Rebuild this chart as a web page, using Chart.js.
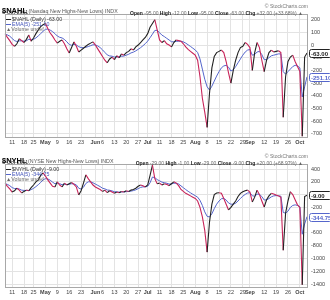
<!DOCTYPE html>
<html><head><meta charset="utf-8">
<script src="https://cdn.jsdelivr.net/npm/chart.js@4.4.1/dist/chart.umd.min.js"></script>
<style>
html,body{margin:0;padding:0;background:#fff;width:330px;height:300px;overflow:hidden;font-family:"Liberation Sans",Arial,sans-serif;}
.panel{position:absolute;left:0;width:330px;height:150px;}
.panel canvas{position:absolute;left:0;top:0;}
.t{position:absolute;white-space:nowrap;color:#444;line-height:1;z-index:2;}
.b{font-weight:bold;color:#222;}
.dash{display:inline-block;width:5px;height:1.2px;vertical-align:middle;margin-right:1px;}
</style></head><body>

<div class="panel" style="top:0">
 <canvas id="c1" width="330" height="150"></canvas>
 <div class="t" style="left:2px;top:0px;"><span class="b" style="font-size:7.5px;color:#000">$NAHL</span><span style="font-size:5.3px;color:#555"> (Nasdaq New Highs-New Lows) INDX</span></div>
 <div class="t" style="left:2px;top:9.5px;font-size:5.3px;color:#333">6-Oct-2011</div>
 <div class="t" style="right:22px;top:3.5px;font-size:5px;color:#777">© StockCharts.com</div>
 <div class="t" style="right:27px;top:10.5px;font-size:5px;color:#666"><span class="b">Open</span> -95.00 <span class="b">High</span> -12.00 <span class="b">Low</span> -95.00 <span class="b">Close</span> -63.00 <span class="b">Chg</span> +32.00 (+33.68%) ▲</div>
 <div class="t" style="left:6px;top:16.5px;font-size:5.3px;color:#333"><span class="dash" style="background:#222"></span>$NAHL (Daily) -63.00</div>
 <div class="t" style="left:6px;top:21.5px;font-size:5.3px;color:#4455bb"><span class="dash" style="background:#5566cc"></span>EMA(5) -251.10</div>
 <div class="t" style="left:6px;top:26.5px;font-size:5.3px;color:#666">▲Volume undef</div>
</div>

<div class="panel" style="top:150px">
 <canvas id="c2" width="330" height="150"></canvas>
 <div class="t" style="left:2px;top:0px;"><span class="b" style="font-size:7.5px;color:#000">$NYHL</span><span style="font-size:5.3px;color:#555"> (NYSE New Highs-New Lows) INDX</span></div>
 <div class="t" style="left:2px;top:9.5px;font-size:5.3px;color:#333">6-Oct-2011</div>
 <div class="t" style="right:22px;top:3.5px;font-size:5px;color:#777">© StockCharts.com</div>
 <div class="t" style="right:27px;top:10.5px;font-size:5px;color:#666"><span class="b">Open</span> -29.00 <span class="b">High</span> -1.00 <span class="b">Low</span> -29.00 <span class="b">Close</span> -9.00 <span class="b">Chg</span> +20.00 (+68.97%) ▲</div>
 <div class="t" style="left:6px;top:16.5px;font-size:5.3px;color:#333"><span class="dash" style="background:#222"></span>$NYHL (Daily) -9.00</div>
 <div class="t" style="left:6px;top:21.5px;font-size:5.3px;color:#4455bb"><span class="dash" style="background:#5566cc"></span>EMA(5) -344.75</div>
 <div class="t" style="left:6px;top:26.5px;font-size:5.3px;color:#666">▲Volume undef</div>
</div>

<script>
// ---- categories: trading days Apr 6 – Oct 6, 2011 ----
const tradingDays = [
 '4/6','4/7','4/8','4/11','4/12','4/13','4/14','4/15','4/18','4/19','4/20','4/21','4/25','4/26','4/27','4/28','4/29',
 '5/2','5/3','5/4','5/5','5/6','5/9','5/10','5/11','5/12','5/13','5/16','5/17','5/18','5/19','5/20','5/23','5/24','5/25','5/26','5/27','5/31',
 '6/1','6/2','6/3','6/6','6/7','6/8','6/9','6/10','6/13','6/14','6/15','6/16','6/17','6/20','6/21','6/22','6/23','6/24','6/27','6/28','6/29','6/30',
 '7/1','7/5','7/6','7/7','7/8','7/11','7/12','7/13','7/14','7/15','7/18','7/19','7/20','7/21','7/22','7/25','7/26','7/27','7/28','7/29',
 '8/1','8/2','8/3','8/4','8/5','8/8','8/9','8/10','8/11','8/12','8/15','8/16','8/17','8/18','8/19','8/22','8/23','8/24','8/25','8/26','8/29','8/30','8/31',
 '9/1','9/2','9/6','9/7','9/8','9/9','9/12','9/13','9/14','9/15','9/16','9/19','9/20','9/21','9/22','9/23','9/26','9/27','9/28','9/29','9/30',
 '10/3','10/4','10/5','10/6'
];

// ---- x tick labels ----
const tickDates = ['4/11','4/18','4/25','5/2','5/9','5/16','5/23','6/1','6/6','6/13','6/20','6/27','7/1','7/11','7/18','7/25','8/1','8/8','8/15','8/22','8/29','9/1','9/12','9/19','9/26','10/3'];
const tickTexts = ['11','18','25','May','9','16','23','Jun','6','13','20','27','Jul','11','18','25','Aug','8','15','22','29','Sep','12','19','26','Oct'];
const monthNames = ['May','Jun','Jul','Aug','Sep','Oct'];

// ---- y tick labels ----
const yTicksNAHL = [200,100,0,-100,-200,-300,-400,-500,-600,-700];
const yTicksNYHL = [400,200,0,-200,-400,-600,-800,-1000,-1200,-1400];

// ---- $NAHL daily ----
const nahlDaily = [
 90,60,35,5,-10,10,50,35,20,45,80,30,55,90,120,145,160,
 170,130,95,70,40,15,30,40,10,-30,-63,-20,25,-10,-55,-40,-25,-10,5,15,25,
 0,-30,-60,-90,-120,-140,-110,-95,-115,-85,-100,-70,-80,-60,-50,-30,-40,-15,0,20,40,60,
 90,140,170,200,120,40,20,35,10,0,-15,20,40,35,30,10,-15,-35,-50,-65,
 -80,-120,-250,-420,-530,-650,-380,-180,-90,-60,-50,-40,-60,-130,-220,-300,-200,-120,-60,-20,-10,20,5,
 -20,-200,-60,20,-20,-120,-210,-120,-60,-40,-55,-50,-45,-60,-570,-250,-130,-95,-80,-130,-170,
 -210,-720,-95,-63
];
// ---- $NAHL EMA ----
const nahlEma = [
 85,80,70,52,35,28,33,33,30,34,45,42,45,56,72,90,108,
 124,126,118,106,90,71,61,56,44,26,4,-2,5,1,-13,-20,-21,-18,-12,-5,2,
 1,-7,-20,-38,-58,-78,-86,-88,-95,-93,-95,-89,-87,-80,-73,-62,-56,-46,-34,-21,-6,11,
 31,58,86,115,116,97,78,67,53,40,26,25,29,30,30,25,15,2,-11,-25,
 -39,-59,-110,-190,-270,-330,-355,-325,-285,-245,-210,-180,-165,-160,-175,-205,-195,-170,-140,-110,-80,-55,-40,
 -35,-80,-75,-55,-50,-75,-115,-115,-100,-85,-80,-75,-70,-70,-210,-230,-210,-190,-170,-160,-165,
 -180,-410,-330,-251.1
];

// ---- $NYHL daily ----
const nyhlDaily = [
 180,130,90,40,60,100,70,25,50,70,60,110,150,200,230,300,340,
 290,230,180,130,120,200,150,120,180,150,170,190,160,120,-5,60,180,310,250,200,150,
 120,100,80,50,70,30,60,40,20,40,30,50,40,60,50,70,80,100,130,150,140,120,
 150,300,460,250,170,180,150,170,160,140,170,200,180,140,80,50,20,0,-20,-40,
 -60,-100,-200,-350,-560,-900,-430,-150,0,25,30,20,-60,-150,-240,-200,-150,-100,-30,20,45,60,70,
 40,-115,-40,70,0,-100,-195,-80,-20,20,10,-5,-20,-40,-870,-290,-100,45,0,-80,-160,
 -200,-1410,-29,-9
];
// ---- $NYHL EMA ----
const nyhlEma = [
 170,160,140,110,95,96,88,70,65,66,64,78,97,125,155,190,230,
 250,245,225,195,170,178,170,155,162,158,162,170,167,152,100,87,115,175,200,200,185,
 165,145,125,100,90,72,68,58,45,43,38,42,41,47,48,55,63,75,93,112,121,121,
 130,185,275,265,235,216,195,187,178,165,167,178,179,166,137,108,79,52,28,5,
 -17,-40,-90,-170,-270,-340,-350,-300,-220,-150,-100,-65,-60,-85,-130,-150,-150,-135,-100,-60,-25,3,25,
 30,-18,-25,7,5,-30,-85,-83,-62,-35,-20,-15,-17,-25,-280,-290,-260,-200,-170,-160,-170,
 -190,-620,-460,-344.75
];

const RED = '#c8245a', BLACK = '#222', BLUE = '#5566cc';
const FONT = '"Liberation Sans", Arial, sans-serif';
const tickMap = {};
tickDates.forEach((d,i)=>{ tickMap[d] = tickTexts[i]; });

const frame = {
 id:'frame',
 afterDatasetsDraw(chart){
  const {ctx, chartArea:a} = chart;
  ctx.save(); ctx.strokeStyle='#a8a8a8'; ctx.lineWidth=1;
  ctx.strokeRect(Math.round(a.left)+0.5, Math.round(a.top)+0.5, Math.round(a.right-a.left), Math.round(a.bottom-a.top));
  ctx.restore();
 }
};
const lastBoxes = {
 id:'lastBoxes',
 afterDraw(chart, args, opts){
  const ctx = chart.ctx, ys = chart.scales.y, a = chart.chartArea;
  ctx.save();
  opts.items.forEach(it=>{
   const py = Math.round(ys.getPixelForValue(it.value));
   const x0 = a.right + 2, w = 22, h = 8;
   ctx.fillStyle = '#fff'; ctx.strokeStyle = it.color; ctx.lineWidth = 1;
   ctx.beginPath(); ctx.roundRect(x0+0.5, py-h/2+0.5, w, h, 2); ctx.fill(); ctx.stroke();
   ctx.fillStyle = it.color; ctx.font = 'bold 6px ' + FONT; ctx.textBaseline = 'middle'; ctx.textAlign='left';
   ctx.fillText(it.text, x0+2, py+1);
  });
  ctx.restore();
 }
};

function makeChart(id, daily, ema, yTicks, ymin, ymax, dailyName){
 const n = daily.length;
 return new Chart(document.getElementById(id), {
  type:'line',
  data:{
   labels: tradingDays,
   datasets:[
    {label:dailyName, data:daily, borderColor:BLACK, borderWidth:1.1, pointRadius:0, tension:0, order:0,
     segment:{borderColor: c => (c.p1.parsed.y < c.p0.parsed.y ? RED : BLACK)}},
    {label:'EMA(5)', data:ema, borderColor:BLUE, borderWidth:1, pointRadius:0, tension:0, order:1}
   ]
  },
  options:{
   responsive:false, animation:false, events:[],
   layout:{padding:{left:5, top:14, right:0, bottom:0}},
   plugins:{legend:{display:false}, tooltip:{enabled:false},
    lastBoxes:{items:[
     {value: daily[n-1], text: daily[n-1].toFixed(2), color:'#222'},
     {value: ema[n-1], text: ema[n-1].toFixed(2), color:BLUE}
    ]}},
   scales:{
    x:{
     type:'category', offset:false,
     grid:{color:'#e3e3e3', drawTicks:false, lineWidth:1},
     border:{display:false},
     ticks:{autoSkip:false, maxRotation:0, minRotation:0, padding:2, color:'#444',
      font: c => ({size:5.5, family:FONT, weight: (c.tick && monthNames.includes(c.tick.label)) ? 'bold' : 'normal'}),
      callback: (v) => { const t = tickMap[tradingDays[v]]; return t === undefined ? null : t; }
     },
     afterFit: s => { s.height = 13; }
    },
    y:{
     position:'right', min:ymin, max:ymax,
     afterBuildTicks: s => { s.ticks = yTicks.map(v => ({value:v})); },
     grid:{color:'#e3e3e3', drawTicks:false},
     border:{display:false},
     ticks:{padding:4, color:'#444', font:{size:5.5, family:FONT}, callback: v => String(v)},
     afterFit: s => { s.width = 23; }
    }
   }
  },
  plugins:[frame, lastBoxes]
 });
}

makeChart('c1', nahlDaily, nahlEma, yTicksNAHL, -726, 245, '$NAHL');
makeChart('c2', nyhlDaily, nyhlEma, yTicksNYHL, -1446, 479, '$NYHL');
</script>
</body></html>
